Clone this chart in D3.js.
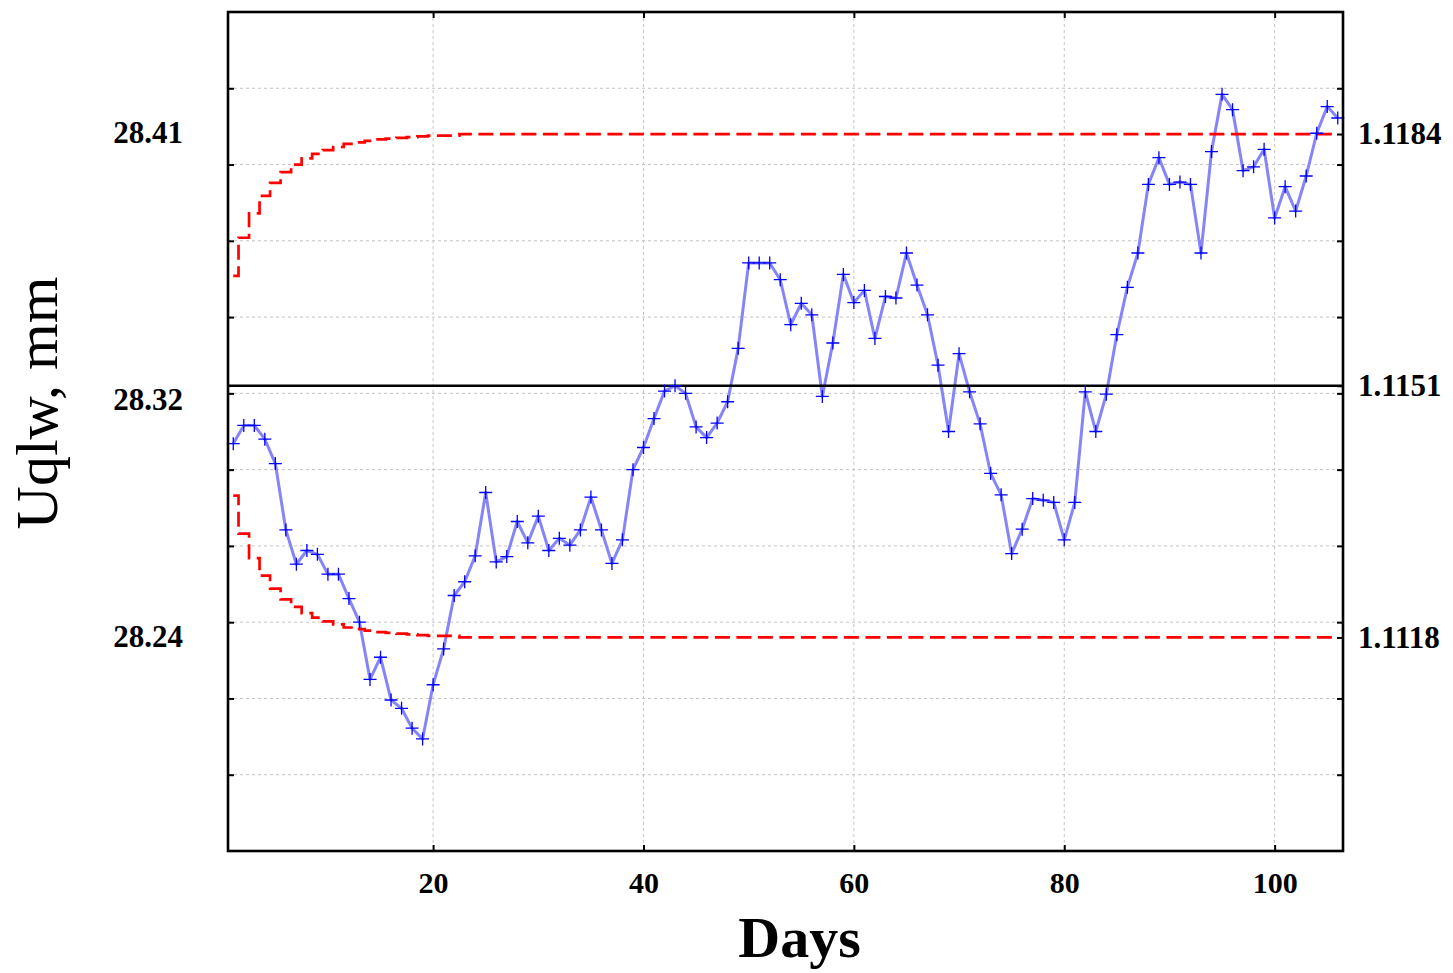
<!DOCTYPE html>
<html>
<head>
<meta charset="utf-8">
<script src="https://cdn.jsdelivr.net/npm/d3@7"></script>
<style>
  body { margin: 0; background: #fff; }
  text { font-family: "Liberation Serif", "Times New Roman", serif; fill: #000; }
</style>
</head>
<body>
<div id="chart"></div>
<script>
// days 1..106
const days = d3.range(1, 107);

// EWMA of the width, inches
const ewma = [
  1.11434, 1.11458, 1.11458, 1.11440, 1.11408, 1.11321, 1.11276, 1.11294, 1.11289, 1.11263,
  1.11263, 1.11231, 1.11200, 1.11125, 1.11154, 1.11098, 1.11087, 1.11061, 1.11047, 1.11118,
  1.11165, 1.11235, 1.11253, 1.11287, 1.11370, 1.11279, 1.11286, 1.11332, 1.11304, 1.11339,
  1.11294, 1.11310, 1.11301, 1.11321, 1.11364, 1.11321, 1.11277, 1.11308, 1.11400, 1.11429,
  1.11467, 1.11503, 1.11510, 1.11500, 1.11456, 1.11442, 1.11461, 1.11489, 1.11559, 1.11671,
  1.11671, 1.11671, 1.11649, 1.11590, 1.11618, 1.11603, 1.11496, 1.11566, 1.11656, 1.11619,
  1.11635, 1.11572, 1.11627, 1.11625, 1.11684, 1.11642, 1.11603, 1.11537, 1.11450, 1.11552,
  1.11502, 1.11460, 1.11395, 1.11367, 1.11290, 1.11322, 1.11362, 1.11360, 1.11357, 1.11308,
  1.11357, 1.11502, 1.11450, 1.11499, 1.11577, 1.11639, 1.11684, 1.11774, 1.11809, 1.11774,
  1.11777, 1.11774, 1.11684, 1.11817, 1.11892, 1.11872, 1.11792, 1.11797, 1.11820, 1.11730,
  1.11771, 1.11739, 1.11785, 1.11841, 1.11876, 1.11861
];

// upper control limit
const ucl = [
  1.11654, 1.11704, 1.11736, 1.11759, 1.11776, 1.11790, 1.11800, 1.11808, 1.11814, 1.11819,
  1.11823, 1.11827, 1.11829, 1.11831, 1.11833, 1.11834, 1.11835, 1.11836, 1.11837, 1.11838,
  1.11838, 1.11838, 1.11840, 1.11840, 1.11840, 1.11840, 1.11840, 1.11840, 1.11840, 1.11840,
  1.11840, 1.11840, 1.11840, 1.11840, 1.11840, 1.11840, 1.11840, 1.11840, 1.11840, 1.11840,
  1.11840, 1.11840, 1.11840, 1.11840, 1.11840, 1.11840, 1.11840, 1.11840, 1.11840, 1.11840,
  1.11840, 1.11840, 1.11840, 1.11840, 1.11840, 1.11840, 1.11840, 1.11840, 1.11840, 1.11840,
  1.11840, 1.11840, 1.11840, 1.11840, 1.11840, 1.11840, 1.11840, 1.11840, 1.11840, 1.11840,
  1.11840, 1.11840, 1.11840, 1.11840, 1.11840, 1.11840, 1.11840, 1.11840, 1.11840, 1.11840,
  1.11840, 1.11840, 1.11840, 1.11840, 1.11840, 1.11840, 1.11840, 1.11840, 1.11840, 1.11840,
  1.11840, 1.11840, 1.11840, 1.11840, 1.11840, 1.11840, 1.11840, 1.11840, 1.11840, 1.11840,
  1.11840, 1.11840, 1.11840, 1.11840, 1.11840, 1.11840
];

// lower control limit
const lcl = [
  1.11366, 1.11316, 1.11284, 1.11261, 1.11244, 1.11230, 1.11220, 1.11212, 1.11206, 1.11201,
  1.11197, 1.11193, 1.11191, 1.11189, 1.11187, 1.11186, 1.11185, 1.11184, 1.11183, 1.11182,
  1.11182, 1.11182, 1.11180, 1.11180, 1.11180, 1.11180, 1.11180, 1.11180, 1.11180, 1.11180,
  1.11180, 1.11180, 1.11180, 1.11180, 1.11180, 1.11180, 1.11180, 1.11180, 1.11180, 1.11180,
  1.11180, 1.11180, 1.11180, 1.11180, 1.11180, 1.11180, 1.11180, 1.11180, 1.11180, 1.11180,
  1.11180, 1.11180, 1.11180, 1.11180, 1.11180, 1.11180, 1.11180, 1.11180, 1.11180, 1.11180,
  1.11180, 1.11180, 1.11180, 1.11180, 1.11180, 1.11180, 1.11180, 1.11180, 1.11180, 1.11180,
  1.11180, 1.11180, 1.11180, 1.11180, 1.11180, 1.11180, 1.11180, 1.11180, 1.11180, 1.11180,
  1.11180, 1.11180, 1.11180, 1.11180, 1.11180, 1.11180, 1.11180, 1.11180, 1.11180, 1.11180,
  1.11180, 1.11180, 1.11180, 1.11180, 1.11180, 1.11180, 1.11180, 1.11180, 1.11180, 1.11180,
  1.11180, 1.11180, 1.11180, 1.11180, 1.11180, 1.11180
];

const centerLine = 1.1151;

const xTicks = [20, 40, 60, 80, 100];
const gridValues = [1.110, 1.111, 1.112, 1.113, 1.114, 1.115, 1.116, 1.117, 1.118, 1.119];
const rightLabels = [1.1184, 1.1151, 1.1118];
const leftLabels = [28.41, 28.32, 28.24];

const width = 1453;
const height = 973;
const margin = { top: 12, right: 110, bottom: 122, left: 228 };
const plotW = width - margin.left - margin.right;
const plotH = height - margin.top - margin.bottom;

const svg = d3.select('#chart')
  .append('svg')
  .attr('width', width)
  .attr('height', height);

const g = svg.append('g')
  .attr('transform', `translate(${margin.left},${margin.top})`);

const x = d3.scaleLinear().domain([0.5, 106.5]).range([0, plotW]);
const y = d3.scaleLinear().domain([1.109, 1.120]).range([plotH, 0]);
// mm labels on the left sit on their own scale
const yMm = d3.scaleLinear().domain([28.1678, 28.4508]).range([plotH, 0]);

// grid
g.append('g').selectAll('line')
  .data(gridValues)
  .enter()
  .append('line')
  .attr('x1', 0)
  .attr('x2', plotW)
  .attr('y1', (d) => y(d))
  .attr('y2', (d) => y(d))
  .attr('stroke', '#c4c4c4')
  .attr('stroke-width', 1)
  .attr('stroke-dasharray', '3,3');

g.append('g').selectAll('line')
  .data(xTicks)
  .enter()
  .append('line')
  .attr('x1', (d) => x(d))
  .attr('x2', (d) => x(d))
  .attr('y1', 0)
  .attr('y2', plotH)
  .attr('stroke', '#c4c4c4')
  .attr('stroke-width', 1)
  .attr('stroke-dasharray', '3,3');

// ewma line
const line = d3.line()
  .x((d, i) => x(days[i]))
  .y((d) => y(d));

g.append('path')
  .datum(ewma)
  .attr('fill', 'none')
  .attr('stroke', '#8585f7')
  .attr('stroke-width', 3)
  .attr('stroke-linejoin', 'round')
  .attr('d', line);

// control limits
const stepLine = d3.line()
  .curve(d3.curveStep)
  .x((d, i) => x(days[i]))
  .y((d) => y(d));

[ucl, lcl].forEach((limit) => {
  g.append('path')
    .datum(limit)
    .attr('fill', 'none')
    .attr('stroke', '#ff0000')
    .attr('stroke-width', 2.7)
    .attr('stroke-dasharray', '15,6.5')
    .attr('d', stepLine);
});

// center line
g.append('line')
  .attr('x1', 0)
  .attr('x2', plotW)
  .attr('y1', y(centerLine))
  .attr('y2', y(centerLine))
  .attr('stroke', '#000')
  .attr('stroke-width', 2.5);

// markers
g.append('g').selectAll('path')
  .data(ewma)
  .enter()
  .append('path')
  .attr('d', (d, i) => {
    const cx = x(days[i]);
    const cy = y(d);
    return `M${cx - 6.5},${cy}h13M${cx},${cy - 6.5}v13`;
  })
  .attr('stroke', '#0000ff')
  .attr('stroke-width', 1.3)
  .attr('fill', 'none');

// axes (inward ticks)
const styleAxis = (sel) => {
  sel.select('.domain').remove();
  sel.selectAll('.tick line').attr('stroke', '#000').attr('stroke-width', 2);
};

g.append('g')
  .attr('transform', `translate(0,${plotH})`)
  .call(d3.axisBottom(x).tickValues(xTicks).tickSize(-6).tickPadding(21).tickFormat(d3.format('d')))
  .call(styleAxis)
  .selectAll('text')
  .style('font-family', '"Liberation Serif", serif')
  .style('font-size', '30px')
  .style('font-weight', 'bold')
  .attr('fill', '#000');

g.append('g')
  .call(d3.axisTop(x).tickValues(xTicks).tickSize(-6).tickFormat(''))
  .call(styleAxis);

g.append('g')
  .call(d3.axisLeft(y).tickValues(gridValues).tickSize(-6).tickFormat(''))
  .call(styleAxis);

g.append('g')
  .attr('transform', `translate(${plotW},0)`)
  .call(d3.axisRight(y).tickValues(gridValues).tickSize(-6).tickFormat(''))
  .call(styleAxis);

g.append('g')
  .attr('transform', `translate(${plotW},0)`)
  .call(d3.axisRight(y).tickValues(rightLabels).tickSize(-6).tickPadding(15).tickFormat(d3.format('.4f')))
  .call(styleAxis)
  .selectAll('text')
  .style('font-family', '"Liberation Serif", serif')
  .style('font-size', '31px')
  .style('font-weight', 'bold')
  .attr('fill', '#000');

g.append('g')
  .call(d3.axisLeft(yMm).tickValues(leftLabels).tickSize(0).tickPadding(45).tickFormat(d3.format('.2f')))
  .call(styleAxis)
  .selectAll('text')
  .style('font-family', '"Liberation Serif", serif')
  .style('font-size', '31px')
  .style('font-weight', 'bold')
  .attr('fill', '#000');

// frame
g.append('rect')
  .attr('x', 0)
  .attr('y', 0)
  .attr('width', plotW)
  .attr('height', plotH)
  .attr('fill', 'none')
  .attr('stroke', '#000')
  .attr('stroke-width', 2.6);

// titles
svg.append('text')
  .attr('x', margin.left + plotW / 2 + 14)
  .attr('y', 957)
  .attr('text-anchor', 'middle')
  .style('font-size', '58px')
  .style('font-weight', 'bold')
  .text('Days');

svg.append('text')
  .attr('transform', 'translate(57,403) rotate(-90)')
  .attr('text-anchor', 'middle')
  .style('font-size', '60px')
  .text('Uqlw, mm');
</script>
</body>
</html>
